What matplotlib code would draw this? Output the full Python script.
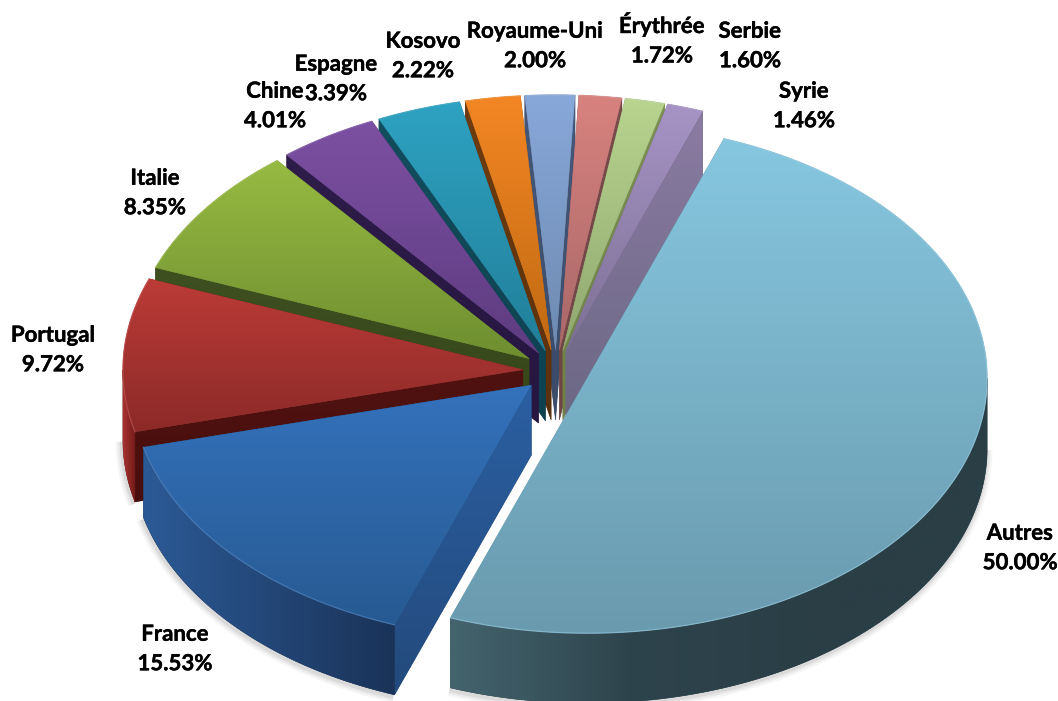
import numpy as np
import matplotlib
matplotlib.use("Agg")
import matplotlib.pyplot as plt
import matplotlib.patheffects as pe
from matplotlib.patches import Polygon
from matplotlib.colors import LinearSegmentedColormap

categories = ["Autres", "France", "Portugal", "Italie", "Chine", "Espagne",
              "Kosovo", "Royaume-Uni", "Érythrée", "Serbie", "Syrie"]
values = [50.00, 15.53, 9.72, 8.35, 4.01, 3.39, 2.22, 2.00, 1.72, 1.60, 1.46]

top_colors = [("#86C7E0", "#6A9AAE"), ("#3472BC", "#275A92"), ("#BC3B37", "#8C2A28"),
              ("#97BA42", "#6E8E30"), ("#7C50A2", "#5E3C80"), ("#2EA2C2", "#217F99"),
              ("#F48624", "#C06A12"), ("#88A8DA", "#6E8AB0"), ("#D8827F", "#A86868"),
              ("#B8D48E", "#8FA870"), ("#A794C6", "#7C7094")]
wall_colors = [("#44646E", "#2E444C", "#2A3E46", "#2A3E46"), ("#2C5A96", "#1A3358"),
               ("#A83230", "#701A18"),
               ("#7A9A35", "#5A7525"), ("#5E3C80", "#46305F"), ("#217F99", "#186070"),
               ("#C06A12", "#8A4A0C"), ("#6E8AB0", "#556C8C"), ("#A86868", "#845050"),
               ("#8FA870", "#708558"), ("#7C7094", "#625878")]
face_colors = [("#44646E", "#2A3E46"), ("#2B5FA2", "#234A7C"), ("#501210", "#480F0E"),
               ("#3E5020", "#344418"), ("#2E1C4A", "#261640"), ("#134E5E", "#0E4050"),
               ("#6E3C10", "#5A300C"), ("#46587A", "#3A4A68"), ("#7A4C4C", "#6E4444"),
               ("#7C9050", "#6E8048"), ("#8A7BA2", "#6C6884")]

label_xy = [(1020, 548), (175, 649), (53, 350), (155, 193), (275, 106), (336, 79),
            (423, 56), (535, 46), (662, 39), (750, 46), (804, 106)]

W, H = 1058, 701
CX, CY = 556, 371
A, B = 400, 255
DEPTH = 70
EXPLODE = 0.083
START = 20.0


def px(cx, theta):
    return cx[0] + A * np.sin(np.radians(theta)), cx[1] - B * np.cos(np.radians(theta))


def gradient(ax, verts, colors, z, vertical=True):
    verts = np.asarray(verts)
    poly = Polygon(verts, closed=True, facecolor=colors[-1], edgecolor=colors[-1], lw=0.4, zorder=z)
    ax.add_patch(poly)
    x0, x1 = verts[:, 0].min(), verts[:, 0].max()
    y0, y1 = verts[:, 1].min(), verts[:, 1].max()
    cmap = LinearSegmentedColormap.from_list("g", list(colors))
    g = np.linspace(0, 1, 256)
    arr = g[:, None] if vertical else g[None, :]
    im = ax.imshow(arr, extent=[x0, x1, y1, y0], origin="upper", cmap=cmap, vmin=0, vmax=1,
                   aspect="auto", zorder=z + 0.1, interpolation="bilinear")
    im.set_clip_path(poly)


plt.rcParams["font.family"] = ["Lato", "DejaVu Sans"]
fig = plt.figure(figsize=(W / 100, H / 100), dpi=100, facecolor="white")
ax = fig.add_axes([0, 0, 1, 1])
ax.set_axis_off()

angles = np.cumsum([0] + [v / sum(values) * 360 for v in values]) + START
slices = []
for i in range(len(values)):
    t0, t1 = angles[i], angles[i + 1]
    mid = (t0 + t1) / 2
    c = (CX + EXPLODE * A * np.sin(np.radians(mid)), CY - EXPLODE * B * np.cos(np.radians(mid)))
    slices.append((i, t0, t1, mid, c))

# soft shadow below the outer walls
for i, t0, t1, mid, c in slices:
    lo, hi = max(t0, 90), min(t1, 270)
    if hi > lo:
        th = np.linspace(lo, hi, 120)
        x, y = px(c, th)
        for lw, al in [(9, 0.05), (6, 0.07), (3, 0.10)]:
            ax.plot(x - 1, y + DEPTH + 2, color="#555555", lw=lw, alpha=al, zorder=1,
                    solid_capstyle="butt")

order = sorted(slices, key=lambda s: -np.cos(np.radians(s[3])))
z = 2
down = np.array([0, DEPTH])
for i, t0, t1, mid, c in order:
    th = np.linspace(t0, t1, max(int(t1 - t0) * 2, 24))
    x, y = px(c, th)
    arc = np.column_stack([x, y])
    tip = np.array(c)
    # radial side faces turned towards the viewer
    if np.sin(np.radians(t0)) < 0:
        gradient(ax, [tip, arc[0], arc[0] + down, tip + down], face_colors[i], z)
        z += 1
    if np.sin(np.radians(t1)) > 0:
        gradient(ax, [tip, arc[-1], arc[-1] + down, tip + down], face_colors[i], z)
        z += 1
    # outer wall, front part only
    lo, hi = max(t0, 90), min(t1, 270)
    if hi > lo:
        tw = np.linspace(lo, hi, 200)
        wx, wy = px(c, tw)
        w = np.column_stack([wx, wy])
        gradient(ax, np.vstack([w, (w + down)[::-1]]), wall_colors[i], z, vertical=False)
        z += 1
    # top surface
    gradient(ax, np.vstack([[tip], arc]), top_colors[i], z)
    z += 1
    hl = LinearSegmentedColormap.from_list("h", [top_colors[i][0], "white"])(0.2)
    ax.plot(x, y, color=hl, lw=0.9, alpha=0.55, zorder=z)
    z += 1

for name, v, (lx, ly) in zip(categories, values, label_xy):
    ax.text(lx, ly, f"{name}\n{v:.2f}%", ha="center", va="center", fontsize=16,
            fontweight="bold", color="black", linespacing=1.5, zorder=z + 1,
            path_effects=[pe.withStroke(linewidth=0.3, foreground="black")])

ax.set_xlim(0, W)
ax.set_ylim(H, 0)
fig.savefig("out.png", dpi=100, facecolor="white")
